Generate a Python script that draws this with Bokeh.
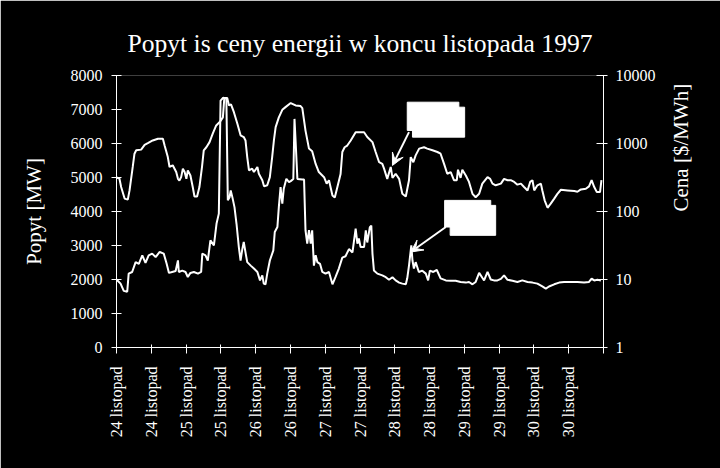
from math import pi
from bokeh.plotting import figure
from bokeh.models import LinearAxis, LogAxis, Range1d, LogScale, FixedTicker, Arrow, VeeHead, BasicTickFormatter
from bokeh.embed import file_html
from bokeh.resources import INLINE

# ---------------- data ----------------
title_text = "Popyt is ceny energii w koncu listopada 1997"
tick_hours = [0, 12, 24, 36, 48, 60, 72, 84, 96, 108, 120, 132, 144, 156, 168]
tick_labels = ["24 listopad", "24 listopad", "25 listopad", "25 listopad", "26 listopad",
               "26 listopad", "27 listopad", "27 listopad", "28 listopad", "28 listopad",
               "29 listopad", "29 listopad", "30 listopad", "30 listopad", ""]

demand_hours = [0, 1.0, 1.6, 2.8, 3.9, 4.5, 5.6, 6.2, 6.8, 8.5,
                9.7, 10.8, 12.5, 14.3, 16.0, 16.6, 17.7, 18.3, 19.4, 20.6,
                21.2, 21.7, 22.3, 22.9, 23.5, 24.1, 24.6, 25.5, 26.3, 26.9,
                27.8, 28.6, 29.5, 30.1, 31.0, 32.1, 33.2, 34.4, 35.6, 36.7,
                37.2, 38.2, 38.8, 39.5, 40.5, 41.7, 42.8, 43.9, 44.5, 45.1,
                45.7, 46.8, 47.4, 48.6, 49.1, 50.3, 50.9, 52.0, 52.9, 53.7,
                54.3, 54.9, 56.0, 57.2, 58.3, 60.1, 61.8, 63.5, 64.1, 65.2,
                66.4, 67.5, 68.7, 69.8, 71.6, 72.5, 73.3, 74.5, 75.3, 76.2,
                77.3, 77.9, 78.7, 79.6, 80.8, 82.5, 83.6, 85.4, 86.5, 88.3,
                89.4, 90.6, 91.7, 92.3, 93.4, 94.6, 95.2, 96.3, 97.5, 98.6,
                99.8, 100.9, 101.5, 102.4, 103.2, 104.4, 106.1, 107.2, 109.0, 110.7,
                111.8, 113.0, 114.1, 115.3, 116.4, 117.4, 117.8, 118.7, 119.3, 120.5,
                121.6, 122.8, 123.9, 125.1, 126.2, 128.0, 128.9, 129.7, 130.8, 132.6,
                133.7, 134.9, 136.0, 137.2, 138.3, 139.5, 140.6, 141.8, 142.7, 143.5,
                144.1, 145.2, 146.4, 146.9, 147.7, 148.7, 149.8, 151.0, 152.1, 153.3,
                155.6, 157.9, 159.0, 160.2, 161.9, 163.0, 163.9, 164.8, 165.7, 166.8,
                167.3]
demand_mw = [5000, 4970, 4720, 4380, 4350, 4620, 5310, 5700, 5800, 5820,
             5960, 6010, 6090, 6140, 6140, 5940, 5600, 5310, 5360, 5160,
             4960, 4910, 5010, 5260, 5160, 4960, 5210, 5060, 4720, 4440,
             4440, 4720, 5310, 5800, 5890, 6040, 6290, 6530, 6630, 6770,
             7340, 7340, 7120, 7150, 6920, 6580, 6240, 6190, 6090, 5600,
             5210, 5260, 5160, 5310, 5110, 4920, 4740, 4770, 5010, 5600,
             6090, 6480, 6770, 6990, 7070, 7190, 7120, 7100, 7040, 6380,
             5850, 5770, 5400, 5160, 5010, 4820, 4920, 4470, 4410, 4720,
             5100, 5750, 5890, 5940, 6090, 6330, 6330, 6330, 6190, 6040,
             5750, 5450, 5400, 5260, 4960, 5310, 4990, 5110, 4960, 4520,
             4440, 4920, 5600, 5450, 5650, 5850, 5890, 5850, 5800, 5750,
             5700, 5400, 5110, 5160, 4920, 4920, 5230, 4990, 5230, 5060,
             4870, 4520, 4420, 4520, 4820, 5010, 4960, 4820, 4770, 4820,
             4960, 4920, 4920, 4870, 4790, 4820, 4720, 4620, 4870, 4920,
             4620, 4770, 4820, 4620, 4330, 4110, 4230, 4380, 4520, 4640,
             4620, 4600, 4580, 4650, 4670, 4740, 4920, 4720, 4570, 4570,
             4920]

price_hours = [0, 1.4, 2.5, 3.7, 4.2, 5.4, 6.6, 7.7, 8.9, 10.0,
               11.1, 12.3, 13.5, 14.9, 16.3, 17.3, 18.1, 19.2, 20.4, 21.2,
               21.5, 22.7, 23.8, 24.6, 25.5, 26.7, 28.1, 29.2, 29.6, 30.7,
               31.5, 32.4, 33.6, 34.5, 35.3, 35.9, 36.8, 37.9, 38.4, 39.0,
               39.4, 40.0, 40.7, 41.4, 42.2, 42.8, 43.4, 43.9, 44.5, 45.1,
               46.3, 47.4, 48.6, 49.5, 50.3, 50.8, 51.4, 52.0, 52.9, 54.1,
               54.6, 55.5, 56.0, 56.6, 57.2, 57.7, 58.6, 59.5, 60.1, 61.0,
               61.4, 61.8, 62.4, 64.1, 64.7, 65.2, 65.8, 66.4, 67.0, 67.5,
               68.1, 68.7, 69.3, 70.2, 71.0, 72.1, 73.3, 74.5, 75.6, 76.7,
               77.9, 79.0, 80.2, 81.4, 82.5, 83.1, 83.6, 84.2, 85.4, 86.0,
               86.5, 87.4, 87.9, 88.3, 88.8, 90.0, 91.7, 92.9, 94.0, 95.2,
               96.3, 97.5, 98.6, 99.8, 100.3, 100.9, 101.7, 102.1, 102.6, 103.2,
               104.3, 105.5, 106.7, 107.5, 108.1, 109.3, 110.5, 111.8, 113.6, 115.3,
               117.0, 118.7, 120.5, 121.6, 122.8, 123.9, 125.1, 126.2, 126.8, 128.0,
               129.1, 130.2, 131.4, 132.6, 133.7, 134.9, 136.6, 138.3, 140.0, 141.8,
               143.5, 145.2, 146.9, 148.1, 149.2, 151.0, 152.7, 154.4, 156.7, 159.0,
               161.3, 163.0, 163.9, 164.8, 165.9, 167.1]
price_usd = [10, 8.7, 6.8, 6.6, 12.2, 12.9, 18, 17, 22.7, 17.5,
             22.7, 24, 21.4, 25.4, 24, 17, 12.5, 12.9, 13.3, 19.1,
             12.9, 13.5, 12.9, 10.9, 12.5, 12.9, 12.2, 12.9, 24, 22.7,
             19, 37.7, 31.8, 66, 93, 4280, 4700, 4550, 146, 162,
             204, 160, 116, 66, 30, 19, 28, 35.6, 25, 18,
             16, 14.5, 12.9, 9.7, 11.5, 8.7, 8.5, 12.2, 19, 26.8,
             50, 59, 116, 228, 130, 216, 303, 270, 280, 300,
             2300, 1050, 300, 295, 295, 53, 33.6, 53, 33.6, 53,
             16, 22.7, 18, 17, 12.9, 12.2, 12.9, 8.5, 11, 14.5,
             21, 22, 28, 25, 56, 33.6, 40, 30, 30, 53,
             35, 59, 62, 24, 13.6, 12.2, 11.5, 10.8, 9.9, 10.8,
             9.7, 9.0, 8.7, 8.5, 10.4, 16, 31.8, 19, 14.5, 18,
             12.9, 13.5, 12.2, 9.7, 13.5, 12.9, 13.8, 10.4, 9.7, 9.6,
             9.6, 9.2, 9.0, 9.2, 8.5, 9.2, 12.5, 10.6, 9.7, 12.9,
             10, 9.7, 9.7, 10.2, 11.5, 9.9, 9.6, 9.2, 9.7, 9.2,
             9.0, 8.7, 7.9, 7.35, 7.9, 8.5, 9.0, 9.2, 9.2, 9.2,
             9.0, 9.2, 10.3, 9.7, 9.9, 9.7]

demand_ticks = [0, 1000, 2000, 3000, 4000, 5000, 6000, 7000, 8000]
price_ticks = [1, 10, 100, 1000, 10000]

# ---------------- figure ----------------
FONT = "Liberation Serif"
FG = "white"

p = figure(width=720, height=468, output_backend="svg", toolbar_location=None,
           x_range=Range1d(0, 168), y_range=Range1d(0, 8000),
           background_fill_color="black", border_fill_color="black",
           min_border_left=116, min_border_right=117, min_border_top=75, min_border_bottom=121)
p.outline_line_color = None
p.xgrid.visible = False
p.ygrid.visible = False

p.extra_y_ranges = {"price": Range1d(1, 10000)}
p.extra_y_scales = {"price": LogScale()}

p.title.text = title_text
p.title.text_font = FONT
p.title.text_font_size = "25.6px"
p.title.text_font_style = "normal"
p.title.text_color = FG
p.title.align = "center"
p.title.standoff = 36


def style(ax, tin, tout, lstand):
    ax.axis_line_color = FG
    ax.axis_line_width = 1
    ax.major_tick_line_color = FG
    ax.major_tick_in = tin
    ax.major_tick_out = tout
    ax.minor_tick_line_color = None
    ax.major_label_text_color = FG
    ax.major_label_text_font = FONT
    ax.major_label_text_font_size = "16px"
    ax.major_label_standoff = lstand
    ax.axis_label_text_color = FG
    ax.axis_label_text_font = FONT
    ax.axis_label_text_font_size = "21px"
    ax.axis_label_text_font_style = "normal"


# bottom axis
xa = p.xaxis[0]
xa.ticker = FixedTicker(ticks=tick_hours)
xa.major_label_overrides = {h: lab for h, lab in zip(tick_hours, tick_labels)}
xa.major_label_orientation = pi / 2
style(xa, 3, 6, 13)

# left axis
ya = p.yaxis[0]
ya.ticker = FixedTicker(ticks=demand_ticks)
ya.axis_label = "Popyt [MW]"
ya.axis_label_standoff = 22
style(ya, 5, 5, 9)

# right axis
ra = LogAxis(y_range_name="price", ticker=FixedTicker(ticks=price_ticks),
             formatter=BasicTickFormatter(use_scientific=False),
             axis_label="Cena [$/MWh]", axis_label_standoff=22)
ra.axis_label_orientation = pi / 2
style(ra, 7, 4, 8)
p.add_layout(ra, "right")

# series
p.line(demand_hours, demand_mw, line_color=FG, line_width=2)
p.line(price_hours, price_usd, line_color=FG, line_width=2, y_range_name="price")

# call-out boxes (empty white labels) with arrows
p.quad(left=[100.3, 102.1], right=[118.1, 120.1], top=[7215, 7068], bottom=[6384, 6187],
       fill_color=FG, line_color=FG)
p.quad(left=[113.2, 115.1], right=[129.1, 130.8], top=[4327, 4180], bottom=[3543, 3299],
       fill_color=FG, line_color=FG)
p.add_layout(Arrow(x_start=100.9, y_start=6334, x_end=95.2, y_end=5355,
                   line_color=FG, line_width=2,
                   end=VeeHead(size=12, fill_color=FG, line_color=FG)))
p.add_layout(Arrow(x_start=113.6, y_start=3543, x_end=101.5, y_end=2808,
                   line_color=FG, line_width=2,
                   end=VeeHead(size=12, fill_color=FG, line_color=FG)))

open("out.html", "w").write(file_html(p, INLINE))
